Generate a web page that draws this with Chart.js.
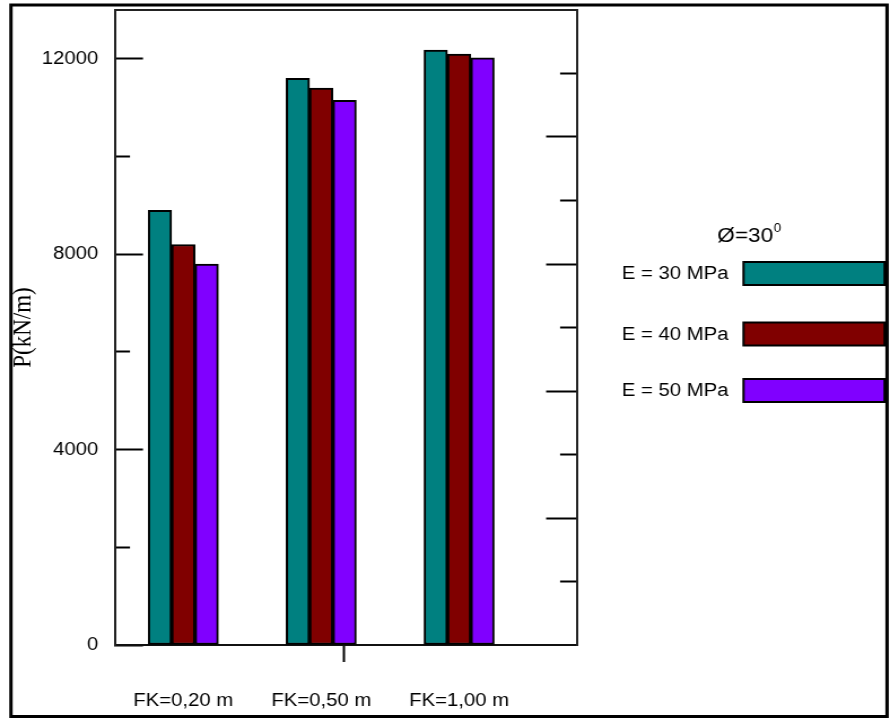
<!DOCTYPE html>
<html>
<head>
<meta charset="utf-8">
<script src="https://cdn.jsdelivr.net/npm/chart.js@4.4.1/dist/chart.umd.min.js"></script>
<style>
  html, body { margin: 0; padding: 0; background: #fff; overflow: hidden; }
  #wrap { position: absolute; left: 0; top: 0; width: 890px; height: 718px; }
  /* the drawing is laid out on a narrower canvas and widened to the page */
  #c { position: absolute; left: 0; top: 0; transform: scaleX(1.12944); transform-origin: 0 0; }
</style>
</head>
<body>
<div id="wrap"><canvas id="c" width="788" height="718"></canvas></div>
<script>
// Bearing load P (kN/m) for three FK depths and three soil moduli
const categories = ['FK=0,20 m', 'FK=0,50 m', 'FK=1,00 m'];
const seriesLabels = ['E = 30 MPa', 'E = 40 MPa', 'E = 50 MPa'];
const e30 = [8900, 11600, 12180];
const e40 = [8200, 11400, 12100];
const e50 = [7800, 11150, 12020];
const yTickValues = [0, 4000, 8000, 12000];
const yMinorValues = [2000, 6000, 10000];
const rightMajorValues = [1, 2, 3, 4];
const rightMinorValues = [0.5, 1.5, 2.5, 3.5, 4.5];
const legendTitle = 'Ø=30';
const legendTitleSup = '0';

const colors = ['#008080', '#800000', '#8000ff'];
const CENTER_MARK = 1.167;
const FONT_SANS = '"Liberation Sans", Arial, sans-serif';

function toPoints(vals) {
  return vals.map((v, i) => ({ x: i, y: v }));
}

const datasets = [e30, e40, e50].map((vals, k) => ({
  label: seriesLabels[k],
  data: toPoints(vals),
  backgroundColor: colors[k],
  borderColor: '#000',
  borderWidth: 2,
  borderSkipped: false,
  barThickness: 20.7,
  xAxisID: 'x',
  yAxisID: 'y'
}));

// fixed box sizes, and no extra label padding pushed onto the plot area
function fixSize(w, h) {
  return s => {
    if (w !== null) s.width = w;
    if (h !== null) s.height = h;
    s.paddingTop = 0;
    s.paddingBottom = 0;
    s.paddingLeft = 0;
    s.paddingRight = 0;
  };
}

// outer frame and the legend to the right of the plot
const decorations = {
  id: 'decorations',
  afterDraw(chart) {
    const ctx = chart.ctx;
    ctx.save();
    ctx.strokeStyle = '#000';
    ctx.lineWidth = 3;
    ctx.strokeRect(9.7, 5, 775.7, 711.5);

    // legend title with superscript
    ctx.fillStyle = '#000';
    ctx.textBaseline = 'middle';
    ctx.textAlign = 'left';
    ctx.font = '20px ' + FONT_SANS;
    const w1 = ctx.measureText(legendTitle).width;
    ctx.font = '12px ' + FONT_SANS;
    const w2 = ctx.measureText(legendTitleSup).width;
    const tx = 663.2 - (w1 + w2) / 2;
    ctx.font = '20px ' + FONT_SANS;
    ctx.fillText(legendTitle, tx, 236);
    ctx.font = '12px ' + FONT_SANS;
    ctx.fillText(legendTitleSup, tx + w1 + 0.5, 229);

    const rowTops = [262, 322.5, 379];
    chart.data.datasets.forEach((ds, i) => {
      const top = rowTops[i];
      ctx.font = '18px ' + FONT_SANS;
      ctx.fillStyle = '#000';
      ctx.textAlign = 'left';
      ctx.textBaseline = 'middle';
      ctx.fillText(ds.label, 550.5, top + 12.5);
      ctx.fillStyle = ds.backgroundColor;
      ctx.fillRect(658.3, top, 124.9, 23);
      ctx.lineWidth = 2;
      ctx.strokeStyle = '#000';
      ctx.strokeRect(658.3, top, 124.9, 23);
    });
    ctx.restore();
  }
};

const tickFont = { family: FONT_SANS, size: 18 };

new Chart(document.getElementById('c'), {
  type: 'bar',
  data: { datasets },
  plugins: [decorations],
  options: {
    responsive: false,
    devicePixelRatio: 1,
    animation: false,
    layout: { padding: { left: 0, right: 277.1, top: 10, bottom: 0 } },
    plugins: { legend: { display: false }, tooltip: { enabled: false } },
    scales: {
      x: {
        type: 'linear',
        position: 'bottom',
        offset: false,
        min: -0.4955,
        max: 2.855,
        bounds: 'data',
        afterBuildTicks: s => { s.ticks = [0, 1, CENTER_MARK, 2].map(v => ({ value: v })); },
        afterFit: fixSize(null, 73),
        ticks: {
          autoSkip: false,
          maxRotation: 0,
          minRotation: 0,
          padding: 28,
          color: '#000',
          font: tickFont,
          callback: v => (Number.isInteger(v) ? categories[v] : '')
        },
        grid: {
          offset: false,
          drawOnChartArea: false,
          drawTicks: true,
          tickLength: 17,
          tickWidth: 2,
          tickColor: c => (c.tick && c.tick.value === CENTER_MARK ? '#000' : 'rgba(0,0,0,0)')
        },
        border: { display: true, color: '#111', width: 2 }
      },
      xTop: {
        type: 'linear',
        position: 'top',
        offset: false,
        min: -0.4955,
        max: 2.855,
        bounds: 'data',
        afterFit: fixSize(null, 0),
        ticks: { display: false },
        grid: { offset: false, drawOnChartArea: false, drawTicks: false },
        border: { display: true, color: '#222', width: 2 }
      },
      y: {
        type: 'linear',
        position: 'left',
        weight: 10,
        min: 0,
        max: 13000,
        bounds: 'data',
        afterBuildTicks: s => { s.ticks = yTickValues.map(v => ({ value: v })); },
        afterFit: fixSize(101.8, null),
        ticks: { padding: 39.6, color: '#000', font: tickFont, callback: v => String(v) },
        grid: { drawOnChartArea: false, drawTicks: true, tickLength: -24.8, tickWidth: 2, tickColor: '#000' },
        border: { display: true, color: '#222', width: 2 },
        title: {
          display: true,
          text: 'P(kN/m)',
          color: '#000',
          font: { family: '"Liberation Serif", "Times New Roman", serif', size: 23 },
          padding: { top: 7, bottom: 0 }
        }
      },
      yMinor: {
        type: 'linear',
        position: 'left',
        weight: 0,
        min: 0,
        max: 13000,
        bounds: 'data',
        afterBuildTicks: s => { s.ticks = yMinorValues.map(v => ({ value: v })); },
        afterFit: fixSize(0, null),
        ticks: { display: false },
        grid: { drawOnChartArea: false, drawTicks: true, tickLength: -13.3, tickWidth: 2, tickColor: '#000' },
        border: { display: false }
      },
      yRight: {
        type: 'linear',
        position: 'right',
        weight: 0,
        min: 0,
        max: 5,
        bounds: 'data',
        afterBuildTicks: s => { s.ticks = rightMajorValues.map(v => ({ value: v })); },
        afterFit: fixSize(0, null),
        ticks: { display: false },
        grid: { drawOnChartArea: false, drawTicks: true, tickLength: -27.4, tickWidth: 2, tickColor: '#000' },
        border: { display: true, color: '#222', width: 2 }
      },
      yRightMinor: {
        type: 'linear',
        position: 'right',
        weight: 1,
        min: 0,
        max: 5,
        bounds: 'data',
        afterBuildTicks: s => { s.ticks = rightMinorValues.map(v => ({ value: v })); },
        afterFit: fixSize(0, null),
        ticks: { display: false },
        grid: { drawOnChartArea: false, drawTicks: true, tickLength: -15, tickWidth: 2, tickColor: '#000' },
        border: { display: false }
      }
    }
  }
});
</script>
</body>
</html>
